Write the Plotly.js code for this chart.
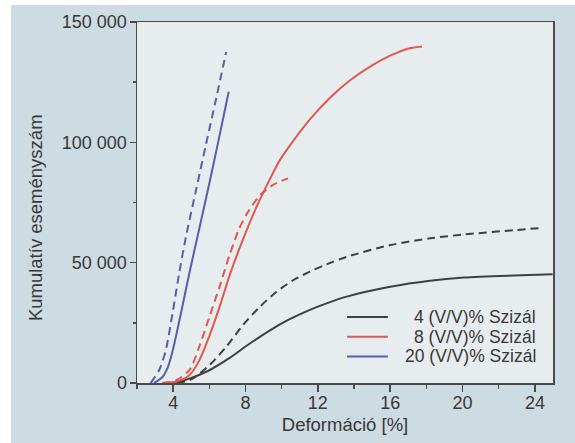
<!DOCTYPE html>
<html>
<head>
<meta charset="utf-8">
<script src="https://cdn.plot.ly/plotly-3.0.1.min.js"></script>
<style>
  html, body { margin: 0; padding: 0; background: #ffffff; }
  #chart { position: absolute; left: 11px; top: 5px; width: 564px; height: 438px; }
</style>
</head>
<body>
<div id="chart"></div>
<script>
// Cumulative acoustic events vs. strain, three sisal fibre contents.
// Solid and dashed curves for each fibre content.

const strain4Solid  = [3.5, 4.2, 4.89, 6.0, 7.1, 8.2, 9.33, 10.44, 11.56, 12.48, 13.59, 16.0, 18.2, 20.07, 22.85, 24.98];
const events4Solid  = [0, 300, 1800, 5300, 10300, 16200, 21800, 26500, 30400, 33100, 35900, 40000, 42500, 43800, 44700, 45200];

const strain4Dashed = [4.2, 5.0, 6.0, 6.93, 7.85, 8.78, 9.7, 10.63, 11.56, 12.48, 13.59, 16.0, 18.2, 20.07, 22.85, 24.33];
const events4Dashed = [0, 1500, 7400, 15000, 24000, 31600, 37800, 42700, 46300, 49300, 52400, 57300, 60100, 61700, 63500, 64400];

const strain8Solid  = [3.4, 4.15, 4.89, 5.44, 6.0, 6.56, 7.11, 7.67, 8.2, 8.69, 9.3, 9.89, 10.63, 11.56, 12.67, 13.78, 15.0, 16.0, 16.93, 17.76];
const events8Solid  = [0, 500, 3200, 9300, 19500, 31500, 44500, 56000, 66000, 74500, 84000, 92500, 100500, 109500, 118500, 125800, 132000, 136000, 138800, 139800];

const strain8Dashed = [3.4, 4.15, 4.89, 5.44, 6.0, 6.56, 7.11, 7.67, 8.13, 8.78, 9.52, 10.35];
const events8Dashed = [0, 1100, 5300, 15000, 27400, 39900, 53000, 64500, 71000, 77800, 82300, 85000];

const strain20Solid  = [2.94, 3.41, 3.7, 3.96, 4.43, 4.89, 5.44, 6.0, 6.5, 7.07];
const events20Solid  = [0, 2500, 6500, 13000, 29000, 45500, 64000, 83000, 100500, 121000];

const strain20Dashed = [2.75, 3.22, 3.59, 3.96, 4.33, 4.7, 5.26, 5.81, 6.37, 6.93];
const events20Dashed = [0, 5300, 13600, 28800, 45500, 60500, 80000, 99000, 118000, 137500];

const seriesLabels = ['4 (V/V)% Szizál', '8 (V/V)% Szizál', '20 (V/V)% Szizál'];
const seriesColors = ['#3f3f3f', '#e2584f', '#5a5eab'];

const yTickValues = [0, 50000, 100000, 150000];
const yTickLabels = ['0', '50 000', '100 000', '150 000'];
const xTickValues = [4, 8, 12, 16, 20, 24];
const xTickLabels = ['4', '8', '12', '16', '20', '24'];

const xTitle = 'Deformáció [%]';
const yTitle = 'Kumulatív eseményszám';

const textColor = '#383838';
const axisColor = '#4a4a4a';
const fontFamily = 'Arial, "Liberation Sans", sans-serif';
const tickFont = { family: fontFamily, size: 18, color: textColor };
const titleFont = { family: fontFamily, size: 18.5, color: textColor };
const keyFont = { family: fontFamily, size: 17.5, color: textColor };

function curve(x, y, color, dashed) {
  return {
    x: x, y: y, type: 'scatter', mode: 'lines',
    line: { color: color, width: 2, shape: 'spline', smoothing: 0.8, dash: dashed ? '8px,5px' : 'solid' },
    hoverinfo: 'skip', showlegend: false
  };
}

const traces = [
  curve(strain4Dashed, events4Dashed, seriesColors[0], true),
  curve(strain8Dashed, events8Dashed, seriesColors[1], true),
  curve(strain20Dashed, events20Dashed, seriesColors[2], true),
  curve(strain4Solid, events4Solid, seriesColors[0], false),
  curve(strain8Solid, events8Solid, seriesColors[1], false),
  curve(strain20Solid, events20Solid, seriesColors[2], false)
];

// key in the lower right of the plot: line swatch + right-aligned label per row
const plotHeightPx = 361;
const keyMidY = 0.1283;
const keyRowPx = 19.8;
const keyRowsY = [keyMidY + keyRowPx / plotHeightPx, keyMidY, keyMidY - keyRowPx / plotHeightPx];
const keyLineX = [0.505, 0.603];
const keyTextX = 0.961;

const shapes = seriesLabels.map((lab, i) => ({
  type: 'line', xref: 'paper', yref: 'paper',
  x0: keyLineX[0], x1: keyLineX[1], y0: keyRowsY[i], y1: keyRowsY[i],
  line: { color: seriesColors[i], width: 2 }
}));

const annotations = seriesLabels.map((lab, i) => ({
  text: lab, xref: 'paper', yref: 'paper', x: keyTextX, y: keyRowsY[i],
  xanchor: 'right', yanchor: 'middle', showarrow: false, borderpad: 0,
  font: keyFont
}));

annotations.push({
  text: yTitle, xref: 'paper', yref: 'paper', x: -0.245, y: 0.457,
  textangle: -90, xanchor: 'center', yanchor: 'middle', showarrow: false,
  font: titleFont
});

const layout = {
  width: 564, height: 438,
  margin: { l: 126, r: 22, t: 17, b: 60 },
  paper_bgcolor: '#cddbe3',
  plot_bgcolor: '#e7ecef',
  font: tickFont,
  showlegend: false,
  xaxis: {
    range: [2, 25], showgrid: false, zeroline: false,
    tickmode: 'array', tickvals: xTickValues, ticktext: xTickLabels,
    ticks: 'outside', ticklen: 7, tickwidth: 1.5, tickcolor: axisColor,
    minor: { dtick: 2, tick0: 0, ticks: 'outside', ticklen: 4, tickwidth: 1.5, tickcolor: axisColor, showgrid: false },
    showline: true, linecolor: axisColor, linewidth: 1.5, mirror: true,
    tickfont: tickFont, ticklabelstandoff: -4,
    title: { text: xTitle, font: titleFont, standoff: 6 }
  },
  yaxis: {
    range: [0, 150000], showgrid: false, zeroline: false,
    tickmode: 'array', tickvals: yTickValues, ticktext: yTickLabels,
    ticks: 'outside', ticklen: 6, tickwidth: 1.5, tickcolor: axisColor,
    minor: { dtick: 25000, tick0: 0, ticks: 'outside', ticklen: 3, tickwidth: 1.5, tickcolor: axisColor, showgrid: false },
    showline: true, linecolor: axisColor, linewidth: 1.5, mirror: true,
    tickfont: tickFont, ticklabelstandoff: -1
  },
  shapes: shapes,
  annotations: annotations
};

Plotly.newPlot('chart', traces, layout, { displayModeBar: false, staticPlot: true });
</script>
</body>
</html>
